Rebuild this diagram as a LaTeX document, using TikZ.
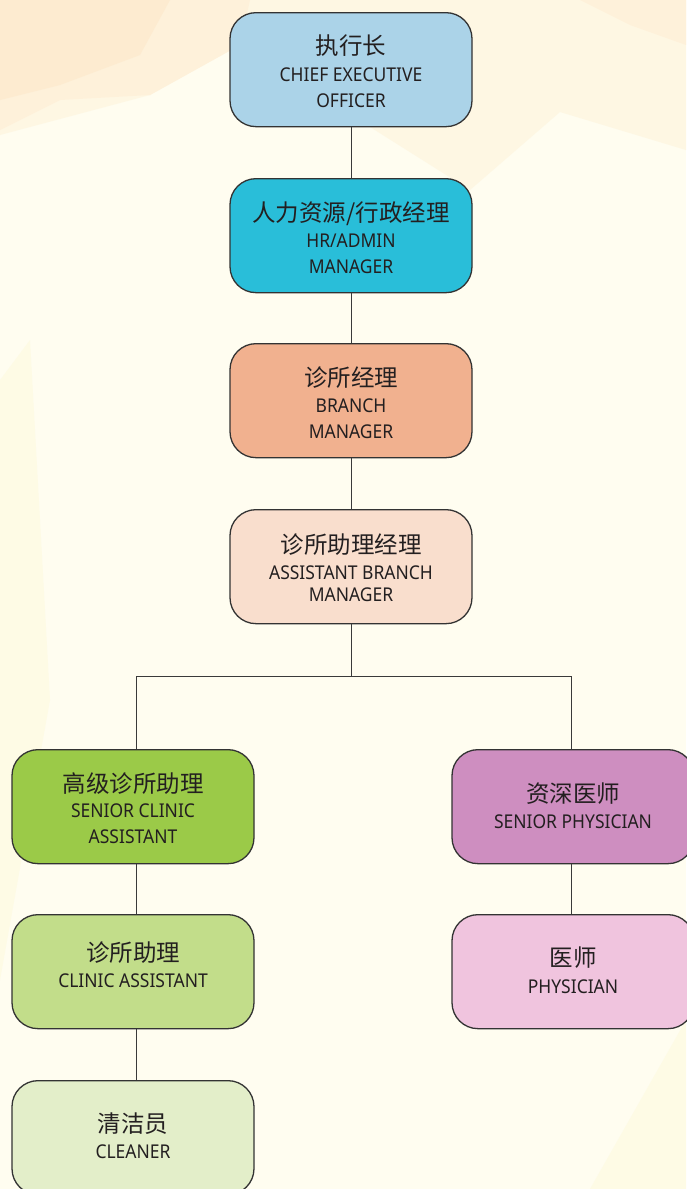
\documentclass[tikz,border=0pt]{standalone}
\usepackage{fontspec}
\setmainfont{Noto Sans}[FakeStretch=0.92]
\newfontfamily\cjk{Noto Sans CJK SC}
\usetikzlibrary{calc}
\definecolor{bgbase}{HTML}{FFFDF0}
\definecolor{peachA}{HTML}{FDEBD0}
\definecolor{peachB}{HTML}{FEF1DA}
\definecolor{peachC}{HTML}{FEF7E3}
\definecolor{yelA}{HTML}{FEFBE5}
\definecolor{boxline}{HTML}{333333}
\definecolor{linec}{HTML}{3A3A3A}
\definecolor{txt}{HTML}{231F20}
\definecolor{cceo}{HTML}{ABD3E8}
\definecolor{chr}{HTML}{29BED9}
\definecolor{cbr}{HTML}{F1B18F}
\definecolor{cab}{HTML}{F9DECD}
\definecolor{csc}{HTML}{9BCA48}
\definecolor{cca}{HTML}{C2DD8A}
\definecolor{ccl}{HTML}{E3EEC9}
\definecolor{csp}{HTML}{CE8EC0}
\definecolor{cph}{HTML}{F0C4DE}
\tikzset{
  box/.style={draw=boxline, line width=1.3pt, rounded corners=26pt,
    minimum width=242pt, minimum height=114pt, inner sep=0pt, anchor=north},
  cn/.style={font=\cjk\fontsize{23.5}{26}\selectfont, anchor=base, text=txt, inner sep=0pt},
  en/.style={font=\fontsize{19}{22}\selectfont, anchor=base, text=txt, inner sep=0pt},
  link/.style={draw=linec, line width=1pt}
}
\begin{document}
\begin{tikzpicture}[x=1pt,y=-1pt]
\useasboundingbox (0,0) rectangle (686,1189);
% background
\fill[bgbase] (0,0) rectangle (686,1189);
\fill[peachC] (0,0) -- (686,0) -- (686,150) -- (560,112) -- (470,190) -- (240,45) -- (150,95) -- (0,135) -- cycle;
\fill[peachB] (0,0) -- (250,0) -- (240,45) -- (150,95) -- (60,100) -- (0,130) -- cycle;
\fill[peachA] (0,0) -- (170,0) -- (140,55) -- (60,85) -- (0,100) -- cycle;
\fill[peachB] (580,0) -- (686,0) -- (686,45) -- (630,25) -- cycle;
\fill[yelA] (0,380) -- (30,340) -- (50,700) -- (0,980) -- cycle;
\fill[yelA] (686,1020) -- (686,1189) -- (590,1189) -- cycle;
% boxes
\node[box, fill=cceo] (ceo) at (351,12) {};
\node[box, fill=chr] (hr) at (351,178) {};
\node[box, fill=cbr] (br) at (351,343) {};
\node[box, fill=cab] (ab) at (351,509) {};
\node[box, fill=csc] (sc) at (133,749) {};
\node[box, fill=cca] (ca) at (133,914) {};
\node[box, fill=ccl] (cl) at (133,1080) {};
\node[box, fill=csp] (sp) at (573,749) {};
\node[box, fill=cph] (ph) at (573,914) {};
% texts
\node[cn] (ceo1) at (351,54) {执行长};
\node[en] (ceo2) at (351,81) {CHIEF EXECUTIVE};
\node[en] (ceo3) at (351,107) {OFFICER};
\node[cn] (hr1) at (351,221) {人力资源/行政经理};
\node[en] (hr2) at (351,247) {HR/ADMIN};
\node[en] (hr3) at (351,273) {MANAGER};
\node[cn] (br1) at (351,386) {诊所经理};
\node[en] (br2) at (351,412) {BRANCH};
\node[en] (br3) at (351,438) {MANAGER};
\node[cn] (ab1) at (351,553) {诊所助理经理};
\node[en] (ab2) at (351,579) {ASSISTANT BRANCH};
\node[en] (ab3) at (351,601) {MANAGER};
\node[cn] (sc1) at (133,792) {高级诊所助理};
\node[en] (sc2) at (133,817) {SENIOR CLINIC};
\node[en] (sc3) at (133,843) {ASSISTANT};
\node[cn] (ca1) at (133,961) {诊所助理};
\node[en] (ca2) at (133,987) {CLINIC ASSISTANT};
\node[cn] (cl1) at (133,1132) {清洁员};
\node[en] (cl2) at (133,1158) {CLEANER};
\node[cn] (sp1) at (573,802) {资深医师};
\node[en] (sp2) at (573,828) {SENIOR PHYSICIAN};
\node[cn] (ph1) at (573,966) {医师};
\node[en] (ph2) at (573,993) {PHYSICIAN};
% connectors
\coordinate (bus) at (351,676);
\draw[link] (ceo.south) -- (hr.north);
\draw[link] (hr.south) -- (br.north);
\draw[link] (br.south) -- (ab.north);
\draw[link] (ab.south) -- (bus);
\draw[link] (bus) -| ([xshift=3pt]sc.north);
\draw[link] (bus) -| ([xshift=-2pt]sp.north);
\draw[link] ([xshift=3pt]sc.south) -- ([xshift=3pt]ca.north);
\draw[link] ([xshift=3pt]ca.south) -- ([xshift=3pt]cl.north);
\draw[link] ([xshift=-2pt]sp.south) -- ([xshift=-2pt]ph.north);
\end{tikzpicture}
\end{document}
